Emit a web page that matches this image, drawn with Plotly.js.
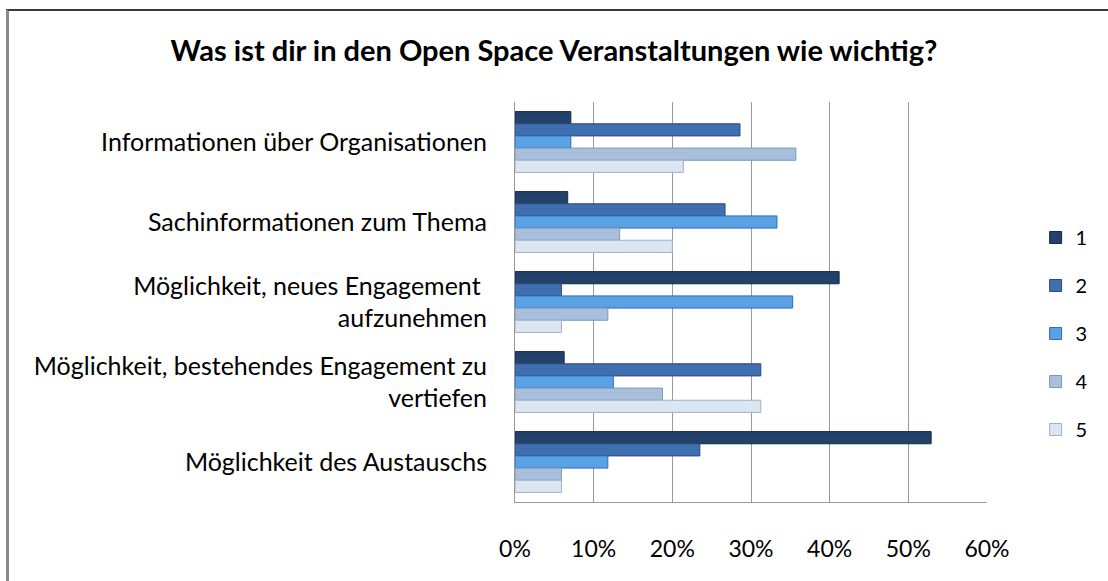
<!DOCTYPE html>
<html>
<head>
<meta charset="utf-8">
<script src="https://cdn.plot.ly/plotly-3.0.1.min.js"></script>
<style>
html,body{margin:0;padding:0;background:#fff;overflow:hidden;}
#chart{width:1108px;height:581px;position:absolute;left:0;top:0;}
#frame{position:absolute;left:6px;top:9px;width:1200px;height:700px;border-left:3px solid #8a8a8a;border-top:2px solid #3a3a3a;pointer-events:none;}
</style>
</head>
<body>
<div id="chart"></div>
<div id="frame"></div>
<script>
const categories = [
  "Informationen über Organisationen",
  "Sachinformationen zum Thema",
  "Möglichkeit, neues Engagement <br>aufzunehmen",
  "Möglichkeit, bestehendes Engagement zu<br>vertiefen",
  "Möglichkeit des Austauschs"
];
const seriesNames = ["1", "2", "3", "4", "5"];
const s1 = [0.071, 0.067, 0.412, 0.0625, 0.529];
const s2 = [0.286, 0.267, 0.059, 0.3125, 0.235];
const s3 = [0.071, 0.333, 0.353, 0.125, 0.118];
const s4 = [0.357, 0.133, 0.118, 0.1875, 0.059];
const s5 = [0.214, 0.200, 0.059, 0.3125, 0.059];
const tickVals = [0, 0.1, 0.2, 0.3, 0.4, 0.5, 0.6];
const tickText = ["0%", "10%", "20%", "30%", "40%", "50%", "60%"];

const seriesValues = [s1, s2, s3, s4, s5];
const fills = ["#22416b", "#3f6fae", "#5aa2e6", "#a9c0dd", "#dbe6f2"];
const lines = ["#142a48", "#284d80", "#2f6fb0", "#7f96b8", "#9fb1c9"];

const font = "Lato, 'Open Sans', sans-serif";

const traces = seriesValues.map((vals, i) => ({
  type: "bar",
  orientation: "h",
  name: seriesNames[i],
  y: categories,
  x: vals,
  legendgroup: "g" + i,
  marker: { color: fills[i], line: { color: lines[i], width: 1 } },
  hoverinfo: "x+y+name"
}));

const layout = {
  width: 1108,
  height: 581,
  paper_bgcolor: "#ffffff",
  plot_bgcolor: "#ffffff",
  margin: { l: 515, r: 121, t: 102, b: 79 },
  title: {
    text: "<b>Was ist dir in den Open Space Veranstaltungen wie wichtig?</b>",
    font: { family: font, size: 29, color: "#000" },
    x: 0.5, xanchor: "center",
    y: 0.912, yanchor: "middle", yref: "container"
  },
  barmode: "group",
  bargap: 0.24,
  bargroupgap: 0.0,
  xaxis: {
    range: [0, 0.6],
    tickvals: tickVals,
    ticktext: tickText,
    showgrid: true,
    gridcolor: "#9a9a9a",
    gridwidth: 1,
    zeroline: false,
    showline: true,
    linecolor: "#9a9a9a",
    linewidth: 1,
    ticks: "outside",
    ticklen: 26,
    tickcolor: "rgba(0,0,0,0)",
    tickfont: { family: font, size: 23, color: "#000" },
    fixedrange: true
  },
  yaxis: {
    autorange: "reversed",
    showline: true,
    linecolor: "#9a9a9a",
    linewidth: 1,
    showgrid: false,
    ticks: "outside",
    ticklen: 22,
    tickcolor: "rgba(0,0,0,0)",
    tickfont: { family: font, size: 25, color: "#000" },
    fixedrange: true
  },
  legend: {
    x: 1.103, xanchor: "left",
    y: 0.71, yanchor: "top",
    traceorder: "grouped",
    tracegroupgap: 19,
    font: { family: font, size: 20, color: "#000" },
    itemwidth: 30,
    bgcolor: "rgba(0,0,0,0)"
  },
  showlegend: true
};

Plotly.newPlot("chart", traces, layout, { displayModeBar: false, staticPlot: true });
</script>
</body>
</html>
